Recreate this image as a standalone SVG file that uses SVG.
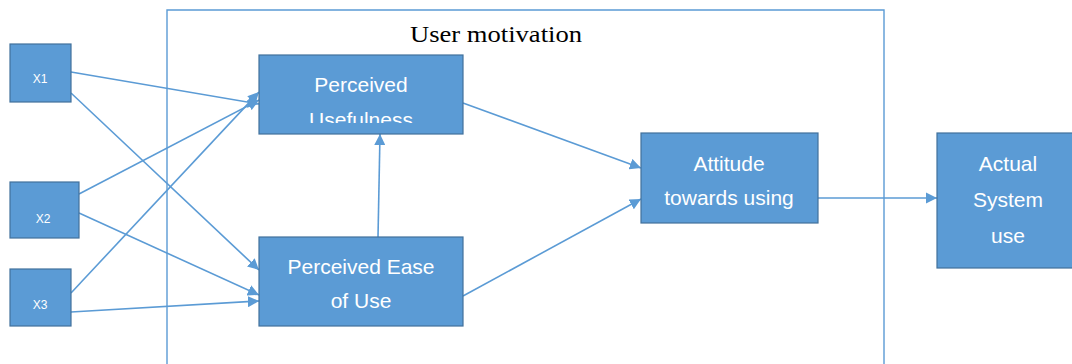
<svg xmlns="http://www.w3.org/2000/svg" width="1072" height="364" viewBox="0 0 1072 364">
<style>
.box{fill:#5B9BD5;stroke:#41719C;stroke-width:1.2}
.lbl{fill:#ffffff;font-family:"Liberation Sans",Arial,sans-serif;font-size:21px;text-anchor:middle}
.sm{fill:#ffffff;font-family:"Liberation Sans",Arial,sans-serif;font-size:12px;text-anchor:middle}
.ln{stroke:#5B9BD5;stroke-width:1.6;fill:none}
.frame{stroke:#5B9BD5;stroke-width:1.4;fill:none}
</style>
<defs>
<marker id="ah" viewBox="0 0 10 10" refX="10" refY="5" markerWidth="7" markerHeight="7" orient="auto" markerUnits="strokeWidth">
<path d="M0,0 L10,5 L0,10 z" fill="#5B9BD5"/>
</marker>
<clipPath id="puclip"><rect x="259" y="55" width="204" height="68"/></clipPath>
</defs>
<g id="frame">
<path class="frame" d="M167,364 L167,10 L884,10 L884,364"/>
<text x="496" y="42" font-family="Liberation Serif,'Times New Roman',serif" font-size="23" text-anchor="middle" textLength="172" lengthAdjust="spacingAndGlyphs" fill="#000">User motivation</text>
</g>
<g id="connectors">
<line class="ln" x1="71" y1="72" x2="259" y2="104" marker-end="url(#ah)"/>
<line class="ln" x1="71" y1="93" x2="259" y2="270" marker-end="url(#ah)"/>
<line class="ln" x1="79" y1="194" x2="259" y2="100" marker-end="url(#ah)"/>
<line class="ln" x1="79" y1="213" x2="259" y2="295" marker-end="url(#ah)"/>
<line class="ln" x1="71" y1="293" x2="259" y2="92" marker-end="url(#ah)"/>
<line class="ln" x1="71" y1="312" x2="259" y2="301" marker-end="url(#ah)"/>
<line class="ln" x1="378" y1="237" x2="380" y2="134" marker-end="url(#ah)"/>
<line class="ln" x1="463" y1="103" x2="641" y2="168" marker-end="url(#ah)"/>
<line class="ln" x1="463" y1="296" x2="641" y2="199" marker-end="url(#ah)"/>
<line class="ln" x1="818" y1="198" x2="937" y2="198" marker-end="url(#ah)"/>
</g>
<g id="x1"><rect class="box" x="10" y="44" width="61" height="58"/><text class="sm" x="40" y="83">X1</text></g>
<g id="x2"><rect class="box" x="10" y="182" width="69" height="56"/><text class="sm" x="43" y="223">X2</text></g>
<g id="x3"><rect class="box" x="10" y="269" width="61" height="57"/><text class="sm" x="40" y="309">X3</text></g>
<g id="pu"><rect class="box" x="259" y="55" width="204" height="79"/>
<g clip-path="url(#puclip)"><text class="lbl" x="361" y="92">Perceived</text><text class="lbl" x="361" y="127">Usefulness</text></g></g>
<g id="peou"><rect class="box" x="259" y="237" width="204" height="89"/><text class="lbl" x="361" y="274">Perceived Ease</text><text class="lbl" x="361" y="308">of Use</text></g>
<g id="att"><rect class="box" x="641" y="133" width="177" height="90"/><text class="lbl" x="729" y="171">Attitude</text><text class="lbl" x="729" y="205">towards using</text></g>
<g id="actual"><rect class="box" x="937" y="133" width="140" height="135"/><text class="lbl" x="1008" y="171">Actual</text><text class="lbl" x="1008" y="207">System</text><text class="lbl" x="1008" y="243">use</text></g>
</svg>
